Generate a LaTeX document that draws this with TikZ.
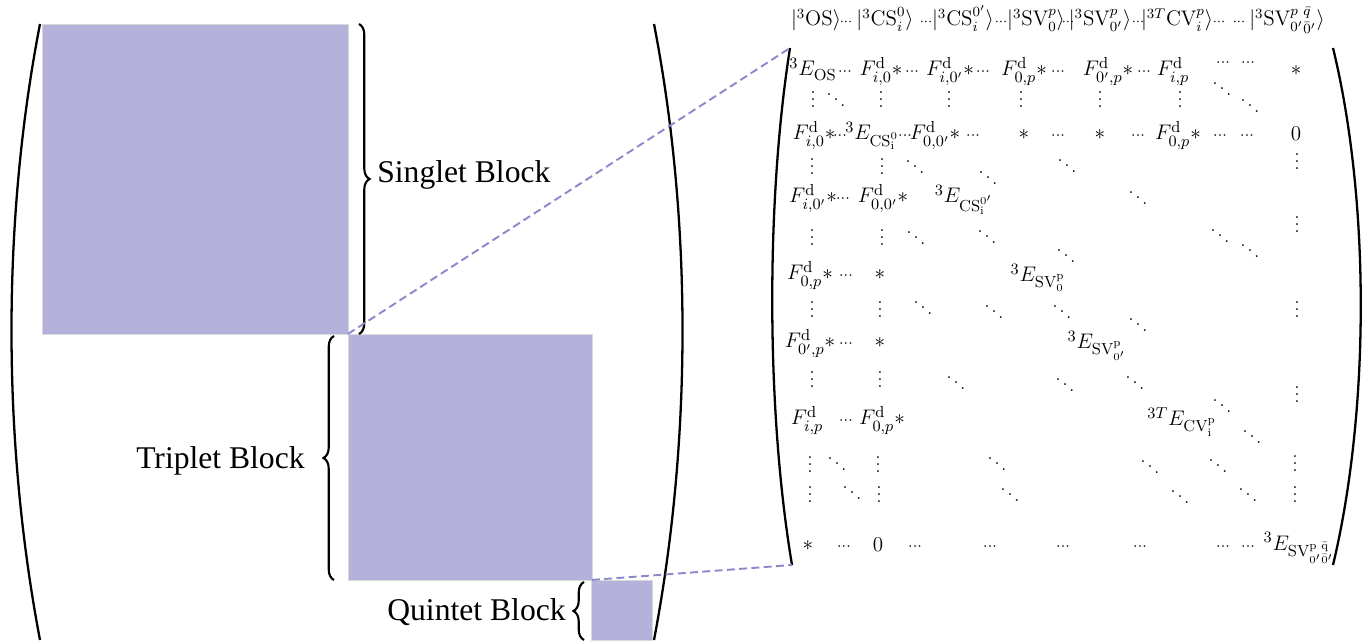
\documentclass[tikz,border=0pt]{standalone}
\usepackage{amsmath,amssymb}
\usepackage{fontspec}
\newfontfamily\blkfont{Liberation Serif}
\usepackage{xcolor}
\usepackage{tikz}
\usetikzlibrary{decorations.pathreplacing}
\definecolor{blockfill}{RGB}{180,178,219}
\definecolor{zoomcol}{RGB}{140,136,204}
% small dots for the matrix
\newcommand{\cdt}{{\scriptstyle\cdots}}
\newcommand{\vdt}{\vbox{\baselineskip4pt\lineskiplimit0pt\hbox{.}\hbox{.}\hbox{.}}}
\newcommand{\ddt}{\mkern1mu\raise7pt\hbox{.}\mkern2mu\raise4pt\hbox{.}\mkern2mu\raise1pt\hbox{.}\mkern1mu}

\begin{document}
\begin{tikzpicture}[x=0.02cm,y=-0.02cm,
blk/.style={fill=blockfill,draw=black!15,line width=0.4pt,anchor=north west,inner sep=0pt,outer sep=0pt},
lbl/.style={font=\blkfont\fontsize{18}{20}\selectfont,inner sep=0pt},
brc/.style={decorate,decoration={brace,amplitude=6pt},line width=1.2pt},
paren/.style={line width=1.3pt},
zoomln/.style={zoomcol,line width=1.1pt,dash pattern=on 4.5pt off 2.5pt},
ket/.style={font=\fontsize{12}{14}\selectfont,inner sep=0pt,anchor=base},
ent/.style={font=\fontsize{13}{15}\selectfont,inner sep=0pt,anchor=base},
dts/.style={font=\fontsize{10}{12}\selectfont,inner sep=0pt,anchor=base,yshift=-4.5pt}
]
\useasboundingbox (0,0) rectangle (1368,644);

% the three blocks
\node[blk,minimum width=6.12cm,minimum height=6.2cm] (sgl) at (42,24) {};
\node[blk,minimum width=4.88cm,minimum height=4.92cm] (trp) at (348,334) {};
\node[blk,minimum width=1.22cm,minimum height=1.2cm] (qnt) at (591,580) {};

% outer parentheses
\draw[paren] (40,24) .. controls (2,220) and (2,440) .. (40,640);
\draw[paren] (654,24) .. controls (692,220) and (692,440) .. (654,640);

% braces and names
\draw[brc] (359,24) -- (359,334);
\draw[brc] (334,580) -- (334,336);
\draw[brc] (584,640) -- (584,582);
\node[lbl,anchor=base west] (sgllbl) at (377,183) {Singlet Block};
\node[lbl,anchor=base east] (trplbl) at (305,469) {Triplet Block};
\node[lbl,anchor=base east] (qntlbl) at (566,620) {Quintet Block};

% matrix delimiters
\coordinate (mtl) at (790,48);
\coordinate (mbl) at (792,565);
\coordinate (mtr) at (1333,48);
\coordinate (mbr) at (1333,565);
\draw[paren] (mtl) .. controls (766,200) and (766,410) .. (mbl);
\draw[paren] (mtr) .. controls (1370,200) and (1370,410) .. (mbr);

% zoom lines
\draw[zoomln] (sgl.south east) -- (mtl);
\draw[zoomln] (trp.south east) -- (mbl);

% column states
\foreach \x/\t [count=\k] in {816/{|^3\mathrm{OS}\rangle},846/\cdt,885/{|^3\mathrm{CS}_i^0\rangle},926/\cdt,
  963/{|^3\mathrm{CS}_i^{0'}\rangle},1001/\cdt,1036/{|^3\mathrm{SV}_0^p\rangle},1068/\cdt,
  1100/{|^3\mathrm{SV}_{0'}^p\rangle},1138/\cdt,1177/{|^{3T}\mathrm{CV}_i^p\rangle},1219/\cdt,1239/\cdt,
  1287/{|^3\mathrm{SV}^p_{0'}{}^{\bar q}_{\bar 0'}\rangle}}
  \node[ket] (h\k) at (\x,26) {$\t$};

% matrix entries
\foreach \x/\y/\t [count=\k] in {
  813/76/{{}^3E_{\mathrm{OS}}},845/76/\cdt,881/76/{F^{\mathrm d}_{i,0}*},912/76/\cdt,
  950/76/{F^{\mathrm d}_{i,0'}*},983/76/\cdt,1024/76/{F^{\mathrm d}_{0,p}*},1058/76/\cdt,
  1108/76/{F^{\mathrm d}_{0',p}*},1144/76/\cdt,1173/76/{F^{\mathrm d}_{i,p}},1223/67/\cdt,1248/67/\cdt,1296/76/*,
  814/140/{F^{\mathrm d}_{i,0}*},840/140/\cdt,872/140/{{}^3E_{\mathrm{CS}_{\mathrm i}^0}},905/140/\cdt,
  935/140/{F^{\mathrm d}_{0,0'}*},973/140/\cdt,1024/140/*,1058/140/\cdt,1100/140/*,1138/140/\cdt,
  1178/140/{F^{\mathrm d}_{0,p}*},1220/140/\cdt,1247/140/\cdt,1296/141/0,
  813/203/{F^{\mathrm d}_{i,0'}*},843/203/\cdt,883/203/{F^{\mathrm d}_{0,0'}*},964/203/{{}^3E_{\mathrm{CS}_{\mathrm i}^{0'}}},
  810/280/{F^{\mathrm d}_{0,p}*},846/280/\cdt,880/280/*,1038/282/{{}^3E_{\mathrm{SV}_0^{\mathrm p}}},
  810/348/{F^{\mathrm d}_{0',p}*},846/348/\cdt,880/348/*,1097/349/{{}^3E_{\mathrm{SV}_{0'}^{\mathrm p}}},
  807/425/{F^{\mathrm d}_{i,p}},846/425/\cdt,882/425/{F^{\mathrm d}_{0,p}*},1182/426/{{}^{3T}E_{\mathrm{CV}_{\mathrm i}^{\mathrm p}}},
  808/550/*,844/550/\cdt,878/551/0,915/550/\cdt,990/550/\cdt,1063/550/\cdt,1140/550/\cdt,
  1223/550/\cdt,1248/550/\cdt,1299/550/{{}^3E_{\mathrm{SV}^{\mathrm p}_{0'}{}^{\bar{\mathrm q}}_{\bar 0'}}}}
  \node[ent] (e\k) at (\x,\y) {$\t$};

% dots between rows
\foreach \x/\y/\t [count=\k] in {
  813/100/\vdt,836/100/\ddt,881/100/\vdt,949/100/\vdt,1021/100/\vdt,1100/100/\vdt,1180/100/\vdt,
  1222/89/\ddt,1250/106/\ddt,
  812/167/\vdt,882/167/\vdt,915/167/\ddt,988/178/\ddt,1067/166/\ddt,1297/162/\vdt,1138/198/\ddt,
  812/238/\vdt,882/238/\vdt,916/238/\ddt,987/237/\ddt,1066/256/\ddt,1220/236/\ddt,1250/251/\ddt,1297/225/\vdt,
  812/310/\vdt,880/310/\vdt,923/308/\ddt,994/312/\ddt,1062/312/\ddt,1138/325/\ddt,1297/310/\vdt,
  812/380/\vdt,880/380/\vdt,956/383/\ddt,1065/385/\ddt,1135/383/\ddt,1222/406/\ddt,1297/395/\vdt,1252/437/\ddt,
  810/465/\vdt,837/464/\ddt,878/465/\vdt,997/464/\ddt,1150/467/\ddt,1218/466/\ddt,1295/464/\vdt,
  810/495/\vdt,852/493/\ddt,879/495/\vdt,1010/495/\ddt,1180/497/\ddt,1248/495/\ddt,1295/495/\vdt}
  \node[dts] (d\k) at (\x,\y) {$\t$};
\end{tikzpicture}
\end{document}
